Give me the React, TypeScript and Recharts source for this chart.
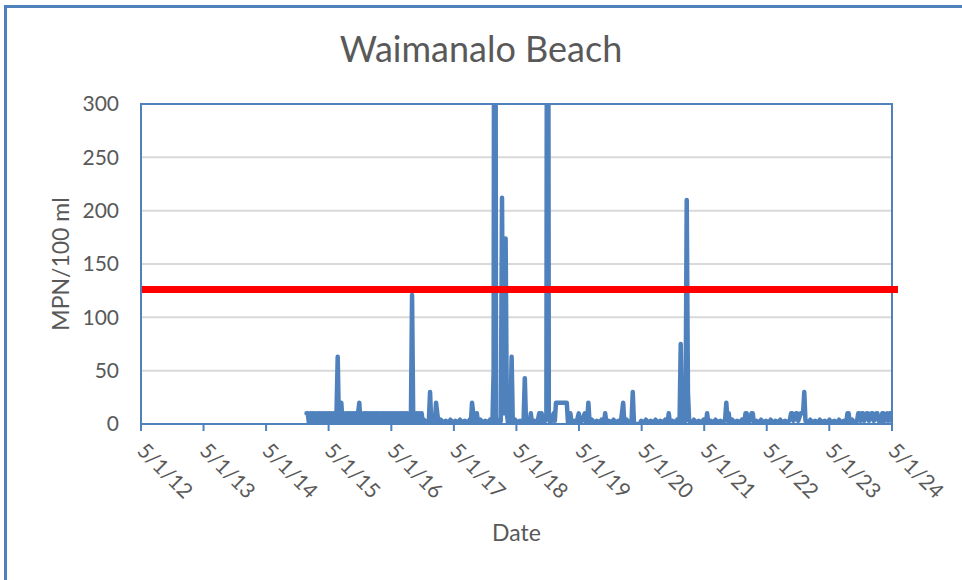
import { CartesianGrid, Label, Line, LineChart, ReferenceArea, ReferenceLine, XAxis, YAxis } from "recharts";

const BLUE = "#4F81BD";
const TEXT = "#595959";
const FONT = "Lato, 'Open Sans', sans-serif";

const chartTitle = "Waimanalo Beach";
const xTickDates = [
  "2012-05-01", "2013-05-01", "2014-05-01", "2015-05-01", "2016-05-01", "2017-05-01", "2018-05-01",
  "2019-05-01", "2020-05-01", "2021-05-01", "2022-05-01", "2023-05-01", "2024-05-01",
];
const yTicks = [0, 50, 100, 150, 200, 250, 300];
const standardMpn = 126;
const standardEnd = "2024-06-05";

// weekly samples, [date, MPN per 100 ml]
const samples2014to2016: [string, number][] = [
  ["2014-12-23", 10], ["2014-12-30", 10],
  ["2015-01-06", 1], ["2015-01-13", 10], ["2015-01-20", 1], ["2015-01-27", 10], ["2015-02-03", 1],
  ["2015-02-10", 10], ["2015-02-17", 1], ["2015-02-24", 10], ["2015-03-03", 1], ["2015-03-10", 10],
  ["2015-03-17", 1], ["2015-03-24", 10], ["2015-03-31", 1], ["2015-04-07", 10], ["2015-04-14", 1],
  ["2015-04-21", 10], ["2015-04-28", 1], ["2015-05-05", 10], ["2015-05-12", 1], ["2015-05-19", 10],
  ["2015-05-26", 1], ["2015-06-02", 10], ["2015-06-09", 1], ["2015-06-16", 10], ["2015-06-23", 63],
  ["2015-06-30", 1], ["2015-07-07", 10], ["2015-07-14", 20], ["2015-07-21", 1], ["2015-07-28", 10],
  ["2015-08-04", 1], ["2015-08-11", 10], ["2015-08-18", 1], ["2015-08-25", 10], ["2015-09-01", 1],
  ["2015-09-08", 10], ["2015-09-15", 1], ["2015-09-22", 10], ["2015-09-29", 1], ["2015-10-06", 10],
  ["2015-10-13", 1], ["2015-10-20", 10], ["2015-10-27", 20], ["2015-11-03", 1], ["2015-11-10", 10],
  ["2015-11-17", 1], ["2015-11-24", 10], ["2015-12-01", 1], ["2015-12-08", 10], ["2015-12-15", 1],
  ["2015-12-22", 10], ["2015-12-29", 1], ["2016-01-05", 10], ["2016-01-12", 1], ["2016-01-19", 10],
  ["2016-01-26", 1], ["2016-02-02", 10], ["2016-02-09", 1], ["2016-02-16", 10], ["2016-02-23", 1],
  ["2016-03-01", 10], ["2016-03-08", 1], ["2016-03-15", 10], ["2016-03-22", 1], ["2016-03-29", 10],
  ["2016-04-05", 1], ["2016-04-12", 10], ["2016-04-19", 1], ["2016-04-26", 10], ["2016-05-03", 1],
  ["2016-05-10", 10], ["2016-05-17", 1], ["2016-05-24", 10], ["2016-05-31", 1], ["2016-06-07", 10],
  ["2016-06-14", 1], ["2016-06-21", 10], ["2016-06-28", 1], ["2016-07-05", 10], ["2016-07-12", 1],
  ["2016-07-19", 10], ["2016-07-26", 1], ["2016-08-02", 10], ["2016-08-09", 1], ["2016-08-16", 10],
  ["2016-08-23", 1], ["2016-08-30", 121], ["2016-09-06", 1], ["2016-09-13", 10], ["2016-09-20", 1],
  ["2016-09-27", 10], ["2016-10-04", 1], ["2016-10-11", 10], ["2016-10-18", 1], ["2016-10-25", 10],
  ["2016-11-01", 1],
];

const samples2016to2017: [string, number][] = [
  ["2016-11-08", 4], ["2016-11-22", 1], ["2016-12-06", 3], ["2016-12-13", 30], ["2016-12-20", 1],
  ["2017-01-03", 4], ["2017-01-10", 1], ["2017-01-17", 20], ["2017-01-24", 10], ["2017-01-31", 1],
  ["2017-02-14", 4], ["2017-02-28", 1], ["2017-03-14", 3], ["2017-03-28", 1], ["2017-04-11", 4],
  ["2017-04-25", 1], ["2017-05-09", 3], ["2017-05-23", 1], ["2017-06-06", 4], ["2017-06-20", 1],
  ["2017-07-04", 3], ["2017-07-18", 1], ["2017-08-01", 4], ["2017-08-08", 1], ["2017-08-15", 20],
  ["2017-08-22", 10], ["2017-08-29", 1], ["2017-09-05", 3], ["2017-09-12", 10], ["2017-09-19", 1],
  ["2017-10-03", 4], ["2017-10-17", 1], ["2017-10-31", 3], ["2017-11-14", 1], ["2017-11-28", 4],
  ["2017-12-12", 1],
];

const samples2018: [string, number][] = [
  ["2017-12-19", 50], ["2017-12-26", 1000], ["2018-01-02", 3], ["2018-01-09", 1], ["2018-01-16", 4],
  ["2018-01-23", 1], ["2018-01-30", 3], ["2018-02-06", 212], ["2018-02-13", 10], ["2018-02-20", 10],
  ["2018-02-27", 174], ["2018-03-06", 10], ["2018-03-13", 1], ["2018-03-27", 3], ["2018-04-03", 63],
  ["2018-04-10", 1], ["2018-04-24", 4], ["2018-05-08", 1], ["2018-05-22", 3], ["2018-06-05", 1],
  ["2018-06-12", 4], ["2018-06-19", 43], ["2018-06-26", 1], ["2018-07-10", 4], ["2018-07-17", 1],
  ["2018-07-24", 10], ["2018-07-31", 1], ["2018-08-14", 3], ["2018-08-28", 1], ["2018-09-04", 4],
  ["2018-09-11", 10], ["2018-09-18", 2], ["2018-09-25", 10], ["2018-10-02", 1], ["2018-10-16", 3],
  ["2018-10-23", 10], ["2018-10-30", 1000], ["2018-11-06", 10], ["2018-11-13", 1], ["2018-11-27", 4],
  ["2018-12-04", 10], ["2018-12-11", 3], ["2018-12-18", 20], ["2018-12-25", 20], ["2019-01-01", 20],
  ["2019-01-08", 20], ["2019-01-15", 20], ["2019-01-22", 20], ["2019-01-29", 20], ["2019-02-05", 20],
  ["2019-02-12", 20], ["2019-02-19", 20],
];

const samples2019to2020: [string, number][] = [
  ["2019-02-26", 1], ["2019-03-05", 4], ["2019-03-12", 10], ["2019-03-19", 1], ["2019-04-02", 3],
  ["2019-04-16", 1], ["2019-04-30", 10], ["2019-05-07", 1], ["2019-05-21", 4], ["2019-06-04", 10],
  ["2019-06-11", 1], ["2019-06-18", 3], ["2019-06-25", 20], ["2019-07-02", 1], ["2019-07-16", 4],
  ["2019-07-30", 1], ["2019-08-13", 3], ["2019-08-27", 1], ["2019-09-10", 4], ["2019-09-24", 1],
  ["2019-10-01", 10], ["2019-10-08", 1], ["2019-10-22", 3], ["2019-11-05", 1], ["2019-11-19", 4],
  ["2019-12-03", 1], ["2019-12-17", 3], ["2019-12-31", 1], ["2020-01-14", 20], ["2020-01-21", 1],
  ["2020-02-04", 4], ["2020-02-18", 1], ["2020-03-03", 3], ["2020-03-10", 30], ["2020-03-17", 1],
  ["2020-03-24", 0], ["2020-04-21", 0], ["2020-04-28", 3], ["2020-05-12", 1], ["2020-05-26", 4],
  ["2020-06-09", 1], ["2020-06-23", 3], ["2020-07-07", 1], ["2020-07-21", 4], ["2020-08-04", 1],
  ["2020-08-18", 3], ["2020-09-01", 1], ["2020-09-15", 4], ["2020-09-29", 1], ["2020-10-06", 10],
  ["2020-10-13", 1], ["2020-10-27", 3], ["2020-11-10", 1], ["2020-11-24", 4], ["2020-12-08", 1],
  ["2020-12-15", 75], ["2020-12-22", 3], ["2021-01-05", 1], ["2021-01-12", 4],
];

const samples2021to2022: [string, number][] = [
  ["2021-01-19", 210], ["2021-01-26", 30], ["2021-02-02", 3], ["2021-02-16", 1], ["2021-03-02", 4],
  ["2021-03-16", 1], ["2021-03-30", 3], ["2021-04-13", 1], ["2021-04-27", 4], ["2021-05-11", 1],
  ["2021-05-18", 10], ["2021-05-25", 1], ["2021-06-08", 3], ["2021-06-22", 1], ["2021-07-06", 4],
  ["2021-07-20", 1], ["2021-08-03", 3], ["2021-08-17", 1], ["2021-08-31", 4], ["2021-09-07", 20],
  ["2021-09-14", 3], ["2021-09-21", 10], ["2021-09-28", 1], ["2021-10-12", 4], ["2021-10-26", 1],
  ["2021-11-09", 3], ["2021-11-23", 1], ["2021-12-07", 4], ["2021-12-21", 1], ["2021-12-28", 10],
  ["2022-01-04", 10], ["2022-01-11", 1], ["2022-01-25", 4], ["2022-02-01", 10], ["2022-02-08", 10],
  ["2022-02-15", 1], ["2022-03-01", 3], ["2022-03-15", 1], ["2022-03-29", 4], ["2022-04-12", 1],
  ["2022-04-26", 3], ["2022-05-10", 1], ["2022-05-24", 4], ["2022-06-07", 1], ["2022-06-21", 3],
  ["2022-07-05", 1], ["2022-07-19", 4], ["2022-08-02", 1], ["2022-08-16", 3], ["2022-08-30", 1],
  ["2022-09-13", 4], ["2022-09-20", 10], ["2022-09-27", 10], ["2022-10-04", 3], ["2022-10-18", 10],
  ["2022-10-25", 10], ["2022-11-01", 3], ["2022-11-15", 10], ["2022-11-22", 10], ["2022-11-29", 10],
  ["2022-12-06", 30], ["2022-12-13", 3], ["2022-12-27", 1],
];

const samples2023to2024: [string, number][] = [
  ["2023-01-10", 4], ["2023-01-24", 1], ["2023-02-07", 3], ["2023-02-21", 1], ["2023-03-07", 4],
  ["2023-03-21", 1], ["2023-04-04", 3], ["2023-04-18", 1], ["2023-05-02", 4], ["2023-05-16", 1],
  ["2023-05-30", 3], ["2023-06-13", 1], ["2023-06-27", 4], ["2023-07-11", 1], ["2023-07-25", 3],
  ["2023-08-08", 1], ["2023-08-15", 10], ["2023-08-22", 10], ["2023-08-29", 1], ["2023-09-12", 4],
  ["2023-09-26", 1], ["2023-10-10", 3], ["2023-10-17", 10], ["2023-10-24", 10], ["2023-10-31", 3],
  ["2023-11-07", 10], ["2023-11-14", 10], ["2023-11-21", 3], ["2023-12-05", 10], ["2023-12-12", 10],
  ["2023-12-19", 3], ["2024-01-02", 10], ["2024-01-09", 10], ["2024-01-16", 3], ["2024-01-30", 10],
  ["2024-02-06", 10], ["2024-02-13", 3], ["2024-02-27", 1], ["2024-03-05", 10], ["2024-03-12", 10],
  ["2024-03-19", 3], ["2024-04-02", 10], ["2024-04-09", 3], ["2024-04-16", 10], ["2024-04-23", 10],
  ["2024-04-30", 3],
];

const toTime = (d: string) => Date.parse(d + "T00:00:00Z");

const data = [
  ...samples2014to2016,
  ...samples2016to2017,
  ...samples2018,
  ...samples2019to2020,
  ...samples2021to2022,
  ...samples2023to2024,
].map(([d, v]) => ({ t: toTime(d), mpn: v }));

const xTicks = xTickDates.map(toTime);
const xStart = xTicks[0];
const xEnd = xTicks[xTicks.length - 1];

const fmtDate = (t: number) => {
  const d = new Date(t);
  return `${d.getUTCMonth() + 1}/${d.getUTCDate()}/${String(d.getUTCFullYear()).slice(2)}`;
};

const DateTick = (props: any) => {
  const { x, payload } = props;
  const px = x - 5;
  const py = 452;
  return (
    <text x={px} y={py} transform={`rotate(45, ${px}, ${py})`} fill={TEXT} fontSize={21} fontFamily={FONT}>
      {fmtDate(payload.value)}
    </text>
  );
};

const YTitle = () => (
  <text x={60} y={264} transform="rotate(-90, 60, 264)" textAnchor="middle" dominantBaseline="central"
    fill={TEXT} fontSize={23} fontFamily={FONT}>
    MPN/100 ml
  </text>
);

export default function App() {
  return (
    <div style={{ position: "absolute", left: 0, top: 0, width: 962, height: 580, overflow: "hidden", background: "#fff" }}>
      <div style={{
        position: "absolute", left: 4, top: 5, width: 1000, height: 572,
        border: `3px solid ${BLUE}`, borderBottomWidth: 2, boxSizing: "content-box",
      }} />
      <div style={{
        position: "absolute", left: 0, top: 28, width: 962, textAlign: "center",
        fontFamily: FONT, fontSize: 36, lineHeight: "40px", color: TEXT,
      }}>
        {chartTitle}
      </div>
      <div style={{ position: "absolute", left: 0, top: 0 }}>
        <LineChart width={962} height={580} data={data} margin={{ top: 104, right: 70, bottom: 0, left: 0 }}>
          <CartesianGrid vertical={false} stroke="#D9D9D9" strokeWidth={2} />
          <XAxis
            dataKey="t"
            type="number"
            domain={[xStart, xEnd]}
            allowDataOverflow
            ticks={xTicks}
            interval={0}
            height={156}
            tickSize={7}
            tickLine={{ stroke: BLUE, strokeWidth: 2 }}
            axisLine={{ stroke: BLUE, strokeWidth: 2 }}
            tick={<DateTick />}
          >
            <Label value="Date" position="insideBottom" offset={39} fill={TEXT} fontSize={23} fontFamily={FONT} />
          </XAxis>
          <YAxis
            type="number"
            domain={[0, 300]}
            allowDataOverflow
            ticks={yTicks}
            width={141}
            tickLine={false}
            tickSize={0}
            tickMargin={22}
            axisLine={{ stroke: BLUE, strokeWidth: 2 }}
            tick={{ fill: TEXT, fontSize: 21, fontFamily: FONT }}
          >
            <Label content={<YTitle />} />
          </YAxis>
          <ReferenceArea x1={xStart} x2={xEnd} y1={0} y2={300} fill="none" stroke={BLUE} strokeWidth={2} ifOverflow="visible" />
          <Line
            type="linear"
            dataKey="mpn"
            stroke={BLUE}
            strokeWidth={4.5}
            strokeLinejoin="round"
            strokeLinecap="round"
            dot={false}
            activeDot={false}
            isAnimationActive={false}
          />
          <ReferenceLine
            segment={[{ x: xStart, y: standardMpn }, { x: toTime(standardEnd), y: standardMpn }]}
            stroke="#FF0000"
            strokeWidth={7}
            ifOverflow="visible"
          />
        </LineChart>
      </div>
    </div>
  );
}
